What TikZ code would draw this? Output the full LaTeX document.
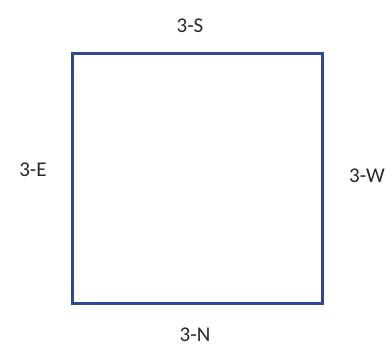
\documentclass[tikz,border=0pt]{standalone}
\usepackage{fontspec}
\setmainfont{Carlito}
\definecolor{sqblue}{RGB}{46,72,150}
\definecolor{lbl}{RGB}{40,40,40}
\begin{document}
\begin{tikzpicture}[x=1pt,y=1pt,
  lab/.style={font=\fontsize{21}{21}\selectfont, text=lbl, inner sep=0pt}]
\useasboundingbox (0,0) rectangle (392,353);
\node[draw=sqblue, line width=3pt, minimum width=250pt, minimum height=250pt, inner sep=0pt] (sq) at (197,174) {};
\node[lab] (s) at (190,327) {3-S};
\node[lab] (e) at (33,183) {3-E};
\node[lab] (w) at (367,177) {3-W};
\node[lab] (n) at (195,18) {3-N};
\end{tikzpicture}
\end{document}
